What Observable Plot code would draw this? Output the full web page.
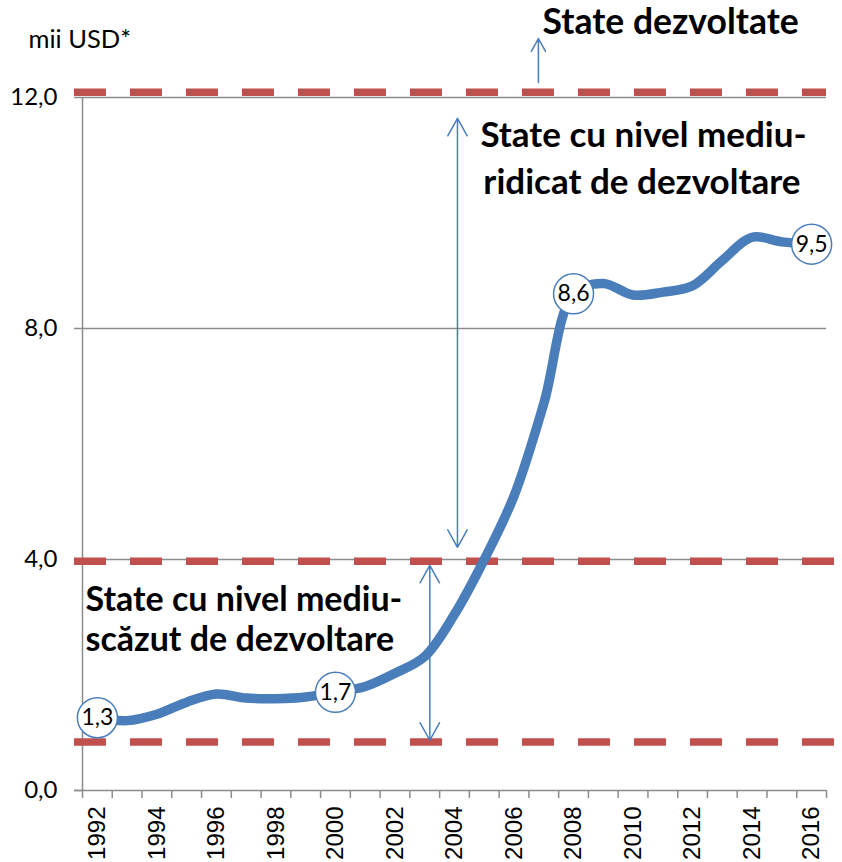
<!DOCTYPE html>
<html>
<head>
<meta charset="utf-8">
<script src="https://cdn.jsdelivr.net/npm/d3@7"></script>
<script src="https://cdn.jsdelivr.net/npm/@observablehq/plot@0.6"></script>
<style>
  html, body { margin: 0; padding: 0; background: #fff; }
</style>
</head>
<body>
<div id="chart"></div>
<script>
const years = [1992,1993,1994,1995,1996,1997,1998,1999,2000,2001,2002,2003,2004,2005,2006,2007,2008,2009,2010,2011,2012,2013,2014,2015,2016];
const values = [1.26,1.21,1.32,1.53,1.67,1.60,1.59,1.62,1.70,1.80,2.03,2.32,3.05,4.00,5.10,6.70,8.60,8.78,8.58,8.63,8.74,9.18,9.58,9.50,9.46];
const labelYears = [1992,2000,2008,2016];
const tickLabelYears = [1992,1994,1996,1998,2000,2002,2004,2006,2008,2010,2012,2014,2016];
const yTicks = [0,4,8,12];
const thresholds = [12.09, 3.97, 0.84];

const series = years.map((y, i) => ({year: y, value: values[i]}));
const labelled = series.filter(d => labelYears.includes(d.year));
const bounds = years.concat([2017]).map(y => y - 0.5);
const fmt = v => v.toFixed(1).replace(".", ",");

const blue = "#4A7EBB";
const red = "#C0504D";
const gray = "#8C8C8C";
const font = "Lato, 'Open Sans', sans-serif";
const arrowOpts = {x1: "x", x2: "x", y1: "y1", y2: "y2", stroke: blue, strokeWidth: 1.5, headLength: 20, headAngle: 58};

const chart = Plot.plot({
  width: 842,
  height: 862,
  marginLeft: 82,
  marginRight: 16,
  marginTop: 97,
  marginBottom: 72,
  x: {type: "linear", domain: [1991.5, 2016.5]},
  y: {domain: [0, 12]},
  style: {fontFamily: font, background: "#fff", color: "#000"},
  marks: [
    // gridlines
    Plot.ruleY([4, 8, 12], {x1: 1991.5, x2: 2016.5, stroke: gray, strokeWidth: 1.5}),
    // y axis line and ticks
    Plot.ruleX([1991.5], {y1: 0, y2: 12, stroke: gray, strokeWidth: 1.5}),
    Plot.ruleY(yTicks, {x1: 1991.23, x2: 1991.5, stroke: gray, strokeWidth: 1.5}),
    // x axis line and ticks
    Plot.ruleY([0], {x1: 1991.23, x2: 2016.5, stroke: gray, strokeWidth: 1.5}),
    Plot.ruleX(bounds, {y1: 0, y2: -0.14, stroke: gray, strokeWidth: 1.5}),
    Plot.axisY({ticks: yTicks, tickFormat: fmt, tickSize: 0, tickPadding: 25, fontSize: 24, fontFamily: font}),
    Plot.axisX({ticks: tickLabelYears, tickFormat: d => String(d), tickSize: 0, tickPadding: 16, tickRotate: -90, fontSize: 24, fontFamily: "'Liberation Sans', Arial, sans-serif", label: null}),
    // threshold dashed lines
    Plot.ruleY([thresholds[0]], {x1: 1991.23, x2: 2016.5, stroke: red, strokeWidth: 7.5, strokeDasharray: "32,24"}),
    Plot.ruleY(thresholds.slice(1), {x1: 1991.23, x2: 2017.0, stroke: red, strokeWidth: 7.5, strokeDasharray: "32,24"}),
    // arrows
    Plot.arrow([{x: 2006.82, y1: 12.26, y2: 13.02}], arrowOpts),
    Plot.arrow([{x: 2004.1, y1: 7.9, y2: 11.64}, {x: 2004.1, y1: 7.9, y2: 4.21}], arrowOpts),
    Plot.arrow([{x: 2003.17, y1: 2.4, y2: 3.9}, {x: 2003.17, y1: 2.4, y2: 0.87}], arrowOpts),
    // data line
    Plot.line(series, {x: "year", y: "value", curve: "catmull-rom", stroke: blue, strokeWidth: 9.5, strokeLinecap: "round", strokeLinejoin: "round"}),
    // labels
    Plot.dot(labelled, {x: "year", y: "value", r: 20, fill: "#fff", stroke: blue, strokeWidth: 1.5}),
    Plot.text(labelled, {x: "year", y: "value", text: d => fmt(d.value), fontSize: 23, fontFamily: font, fill: "#000"}),
    // annotations
    Plot.text(["mii USD*"], {x: 1991.5, y: 13.0, dx: -54, text: d => d, textAnchor: "start", fontSize: 25.5, fontFamily: font, fill: "#000"}),
    Plot.text(["State dezvoltate"], {x: 2006.96, y: 13.3, text: d => d, textAnchor: "start", fontSize: 35.5, fontWeight: "bold", fontFamily: font, fill: "#000"}),
    Plot.text(["State cu nivel mediu-"], {x: 2004.87, y: 11.34, text: d => d, textAnchor: "start", fontSize: 35, fontWeight: "bold", fontFamily: font, fill: "#000"}),
    Plot.text(["ridicat de dezvoltare"], {x: 2004.97, y: 10.53, text: d => d, textAnchor: "start", fontSize: 35, fontWeight: "bold", fontFamily: font, fill: "#000"}),
    Plot.text(["State cu nivel mediu-"], {x: 1991.6, y: 3.29, text: d => d, textAnchor: "start", fontSize: 34, fontWeight: "bold", fontFamily: font, fill: "#000"}),
    Plot.text(["scăzut de dezvoltare"], {x: 1991.6, y: 2.6, text: d => d, textAnchor: "start", fontSize: 34, fontWeight: "bold", fontFamily: font, fill: "#000"})
  ]
});
document.getElementById("chart").appendChild(chart);
</script>
</body>
</html>
